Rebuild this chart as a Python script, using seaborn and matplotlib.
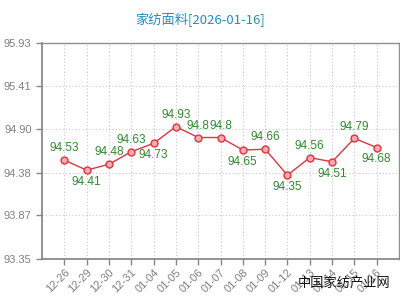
import matplotlib
matplotlib.use("Agg")
import matplotlib.pyplot as plt
import seaborn as sns
import pandas as pd

dates = ["12-26", "12-29", "12-30", "12-31", "01-04", "01-05", "01-06", "01-07",
         "01-08", "01-09", "01-12", "01-13", "01-14", "01-15", "01-16"]
prices = [94.53, 94.41, 94.48, 94.63, 94.73, 94.93, 94.8, 94.8,
          94.65, 94.66, 94.35, 94.56, 94.51, 94.79, 94.68]
label_text = ["94.53", "94.41", "94.48", "94.63", "94.73", "94.93", "94.8", "94.8",
              "94.65", "94.66", "94.35", "94.56", "94.51", "94.79", "94.68"]
label_side = [1, -1, 1, 1, -1, 1, 1, 1, -1, 1, -1, 1, -1, 1, -1]  # above / below point
y_ticks = [93.35, 93.87, 94.38, 94.90, 95.41, 95.93]
y_tick_labels = ["93.35", "93.87", "94.38", "94.90", "95.41", "95.93"]
title = "家纺面料[2026-01-16]"
watermark = "中国家纺产业网"

df = pd.DataFrame({"x": range(len(dates)), "price": prices})

sns.set_style("white")
plt.rcParams["font.family"] = ["Liberation Sans", "Noto Sans CJK SC", "DejaVu Sans"]

fig = plt.figure(figsize=(4, 3), dpi=100)
ax = fig.add_axes([0.105, 0.137, 0.8925, 0.72])

sns.lineplot(data=df, x="x", y="price", ax=ax, color="#e0353f", linewidth=1,
             marker="o", markersize=5, markerfacecolor="#f7aab0",
             markeredgecolor="#e0353f", markeredgewidth=1, zorder=3)

for i, (v, t, s) in enumerate(zip(prices, label_text, label_side)):
    ax.annotate(t, (i, v), xytext=(0, 8.5 * s), textcoords="offset points",
                ha="center", va="center",
                fontsize=8.5, color="#2e8b2e", zorder=4)

ax.set_xlim(-1, 15)
ax.set_ylim(93.35, 95.93)
ax.set_xticks(range(len(dates)))
ax.set_xticklabels(dates, rotation=45, ha="right", rotation_mode="anchor")
ax.set_yticks(y_ticks)
ax.set_yticklabels(y_tick_labels)
ax.set_xlabel("")
ax.set_ylabel("")

ax.grid(True, linestyle=(0, (1, 2)), color="#c8c8c8", linewidth=0.8)
ax.tick_params(axis="both", colors="#888888", labelcolor="#808080",
               labelsize=8, length=4, width=1, direction="out", left=True, bottom=True)
ax.tick_params(axis="x", pad=2)
for side in ["top", "right"]:
    ax.spines[side].set_color("#909090")
    ax.spines[side].set_linewidth(1)
for side in ["left", "bottom"]:
    ax.spines[side].set_color("#808080")
    ax.spines[side].set_linewidth(1.2)

fig.text(0.5, 0.935, title, ha="center", va="center", fontsize=9.5,
         color="#1f8fc8", family=["Noto Sans CJK SC", "DejaVu Sans"])
fig.text(0.975, 0.055, watermark, ha="right", va="center", fontsize=9.5,
         color="#111111", family=["Noto Sans CJK SC", "DejaVu Sans"])

plt.savefig("out.png", dpi=100)
